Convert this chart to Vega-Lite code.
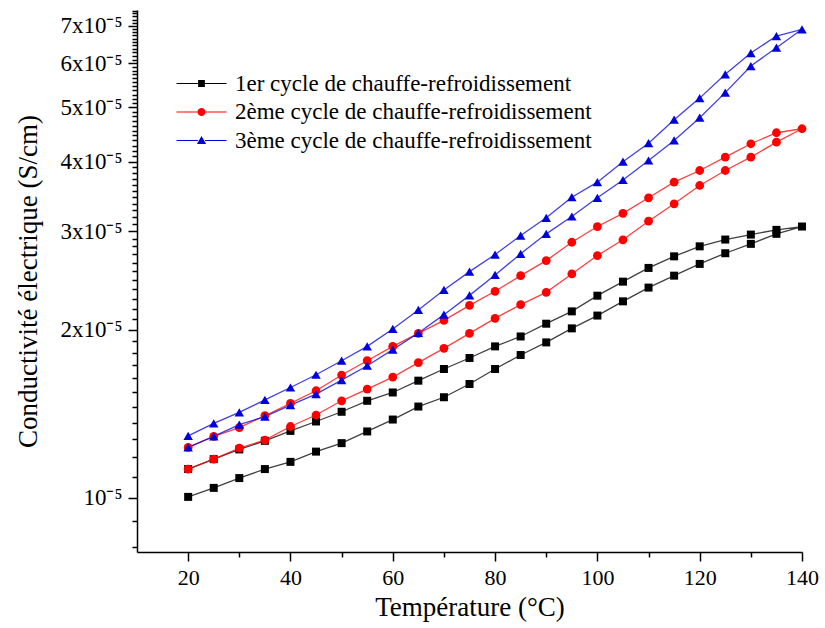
{
"$schema": "https://vega.github.io/schema/vega-lite/v6.json",
"width": 665, "height": 542,
"autosize": {"type": "none"},
"padding": {"left": 137, "top": 10, "right": 23, "bottom": 76},
"background": "white",
"config": {"view": {"stroke": null}, "font": "Liberation Serif",
  "axis": {"labelFont": "Liberation Serif", "titleFont": "Liberation Serif"},
  "legend": {"labelFont": "Liberation Serif"}},
"datasets": {"d": [
{"c":"1er","s":0,"T":20,"v":1.004e-5},{"c":"1er","s":1,"T":25,"v":1.042e-5},{"c":"1er","s":2,"T":30,"v":1.085e-5},{"c":"1er","s":3,"T":35,"v":1.126e-5},{"c":"1er","s":4,"T":40,"v":1.160e-5},{"c":"1er","s":5,"T":45,"v":1.210e-5},{"c":"1er","s":6,"T":50,"v":1.253e-5},{"c":"1er","s":7,"T":55,"v":1.315e-5},{"c":"1er","s":8,"T":60,"v":1.381e-5},{"c":"1er","s":9,"T":65,"v":1.457e-5},{"c":"1er","s":10,"T":70,"v":1.514e-5},{"c":"1er","s":11,"T":75,"v":1.599e-5},{"c":"1er","s":12,"T":80,"v":1.701e-5},{"c":"1er","s":13,"T":85,"v":1.802e-5},{"c":"1er","s":14,"T":90,"v":1.898e-5},{"c":"1er","s":15,"T":95,"v":2.011e-5},{"c":"1er","s":16,"T":100,"v":2.120e-5},{"c":"1er","s":17,"T":105,"v":2.248e-5},{"c":"1er","s":18,"T":110,"v":2.379e-5},{"c":"1er","s":19,"T":115,"v":2.499e-5},{"c":"1er","s":20,"T":120,"v":2.623e-5},{"c":"1er","s":21,"T":125,"v":2.741e-5},{"c":"1er","s":22,"T":130,"v":2.849e-5},{"c":"1er","s":23,"T":135,"v":2.969e-5},{"c":"1er","s":24,"T":140,"v":3.060e-5},
{"c":"1er","s":25,"T":135,"v":3.018e-5},{"c":"1er","s":26,"T":130,"v":2.960e-5},{"c":"1er","s":27,"T":125,"v":2.900e-5},{"c":"1er","s":28,"T":120,"v":2.820e-5},{"c":"1er","s":29,"T":115,"v":2.706e-5},{"c":"1er","s":30,"T":110,"v":2.580e-5},{"c":"1er","s":31,"T":105,"v":2.438e-5},{"c":"1er","s":32,"T":100,"v":2.301e-5},{"c":"1er","s":33,"T":95,"v":2.157e-5},{"c":"1er","s":34,"T":90,"v":2.050e-5},{"c":"1er","s":35,"T":85,"v":1.945e-5},{"c":"1er","s":36,"T":80,"v":1.867e-5},{"c":"1er","s":37,"T":75,"v":1.780e-5},{"c":"1er","s":38,"T":70,"v":1.701e-5},{"c":"1er","s":39,"T":65,"v":1.621e-5},{"c":"1er","s":40,"T":60,"v":1.544e-5},{"c":"1er","s":41,"T":55,"v":1.492e-5},{"c":"1er","s":42,"T":50,"v":1.426e-5},{"c":"1er","s":43,"T":45,"v":1.370e-5},{"c":"1er","s":44,"T":40,"v":1.318e-5},{"c":"1er","s":45,"T":35,"v":1.265e-5},{"c":"1er","s":46,"T":30,"v":1.221e-5},{"c":"1er","s":47,"T":25,"v":1.173e-5},{"c":"1er","s":48,"T":20,"v":1.126e-5},
{"c":"2ème","s":0,"T":20,"v":1.126e-5},{"c":"2ème","s":1,"T":25,"v":1.173e-5},{"c":"2ème","s":2,"T":30,"v":1.228e-5},{"c":"2ème","s":3,"T":35,"v":1.269e-5},{"c":"2ème","s":4,"T":40,"v":1.342e-5},{"c":"2ème","s":5,"T":45,"v":1.407e-5},{"c":"2ème","s":6,"T":50,"v":1.492e-5},{"c":"2ème","s":7,"T":55,"v":1.566e-5},{"c":"2ème","s":8,"T":60,"v":1.645e-5},{"c":"2ème","s":9,"T":65,"v":1.746e-5},{"c":"2ème","s":10,"T":70,"v":1.852e-5},{"c":"2ème","s":11,"T":75,"v":1.970e-5},{"c":"2ème","s":12,"T":80,"v":2.096e-5},{"c":"2ème","s":13,"T":85,"v":2.218e-5},{"c":"2ème","s":14,"T":90,"v":2.333e-5},{"c":"2ème","s":15,"T":95,"v":2.517e-5},{"c":"2ème","s":16,"T":100,"v":2.715e-5},{"c":"2ème","s":17,"T":105,"v":2.897e-5},{"c":"2ème","s":18,"T":110,"v":3.128e-5},{"c":"2ème","s":19,"T":115,"v":3.360e-5},{"c":"2ème","s":20,"T":120,"v":3.624e-5},{"c":"2ème","s":21,"T":125,"v":3.855e-5},{"c":"2ème","s":22,"T":130,"v":4.073e-5},{"c":"2ème","s":23,"T":135,"v":4.332e-5},{"c":"2ème","s":24,"T":140,"v":4.579e-5},
{"c":"2ème","s":25,"T":135,"v":4.504e-5},{"c":"2ème","s":26,"T":130,"v":4.304e-5},{"c":"2ème","s":27,"T":125,"v":4.073e-5},{"c":"2ème","s":28,"T":120,"v":3.855e-5},{"c":"2ème","s":29,"T":115,"v":3.674e-5},{"c":"2ème","s":30,"T":110,"v":3.445e-5},{"c":"2ème","s":31,"T":105,"v":3.231e-5},{"c":"2ème","s":32,"T":100,"v":3.060e-5},{"c":"2ème","s":33,"T":95,"v":2.868e-5},{"c":"2ème","s":34,"T":90,"v":2.659e-5},{"c":"2ème","s":35,"T":85,"v":2.499e-5},{"c":"2ème","s":36,"T":80,"v":2.343e-5},{"c":"2ème","s":37,"T":75,"v":2.211e-5},{"c":"2ème","s":38,"T":70,"v":2.078e-5},{"c":"2ème","s":39,"T":65,"v":1.970e-5},{"c":"2ème","s":40,"T":60,"v":1.867e-5},{"c":"2ème","s":41,"T":55,"v":1.760e-5},{"c":"2ème","s":42,"T":50,"v":1.659e-5},{"c":"2ème","s":43,"T":45,"v":1.555e-5},{"c":"2ème","s":44,"T":40,"v":1.476e-5},{"c":"2ème","s":45,"T":35,"v":1.403e-5},{"c":"2ème","s":46,"T":30,"v":1.336e-5},{"c":"2ème","s":47,"T":25,"v":1.288e-5},{"c":"2ème","s":48,"T":20,"v":1.231e-5},
{"c":"3ème","s":0,"T":20,"v":1.231e-5},{"c":"3ème","s":1,"T":25,"v":1.288e-5},{"c":"3ème","s":2,"T":30,"v":1.352e-5},{"c":"3ème","s":3,"T":35,"v":1.398e-5},{"c":"3ème","s":4,"T":40,"v":1.466e-5},{"c":"3ème","s":5,"T":45,"v":1.534e-5},{"c":"3ème","s":6,"T":50,"v":1.625e-5},{"c":"3ème","s":7,"T":55,"v":1.724e-5},{"c":"3ème","s":8,"T":60,"v":1.842e-5},{"c":"3ème","s":9,"T":65,"v":1.973e-5},{"c":"3ème","s":10,"T":70,"v":2.128e-5},{"c":"3ème","s":11,"T":75,"v":2.304e-5},{"c":"3ème","s":12,"T":80,"v":2.506e-5},{"c":"3ème","s":13,"T":85,"v":2.734e-5},{"c":"3ème","s":14,"T":90,"v":2.969e-5},{"c":"3ème","s":15,"T":95,"v":3.189e-5},{"c":"3ème","s":16,"T":100,"v":3.445e-5},{"c":"3ème","s":17,"T":105,"v":3.707e-5},{"c":"3ème","s":18,"T":110,"v":4.017e-5},{"c":"3ème","s":19,"T":115,"v":4.363e-5},{"c":"3ème","s":20,"T":120,"v":4.792e-5},{"c":"3ème","s":21,"T":125,"v":5.313e-5},{"c":"3ème","s":22,"T":130,"v":5.929e-5},{"c":"3ème","s":23,"T":135,"v":6.396e-5},{"c":"3ème","s":24,"T":140,"v":6.898e-5},
{"c":"3ème","s":25,"T":135,"v":6.710e-5},{"c":"3ème","s":26,"T":130,"v":6.255e-5},{"c":"3ème","s":27,"T":125,"v":5.730e-5},{"c":"3ème","s":28,"T":120,"v":5.195e-5},{"c":"3ème","s":29,"T":115,"v":4.753e-5},{"c":"3ème","s":30,"T":110,"v":4.314e-5},{"c":"3ème","s":31,"T":105,"v":3.998e-5},{"c":"3ème","s":32,"T":100,"v":3.674e-5},{"c":"3ème","s":33,"T":95,"v":3.453e-5},{"c":"3ème","s":34,"T":90,"v":3.172e-5},{"c":"3ème","s":35,"T":85,"v":2.948e-5},{"c":"3ème","s":36,"T":80,"v":2.726e-5},{"c":"3ème","s":37,"T":75,"v":2.541e-5},{"c":"3ème","s":38,"T":70,"v":2.356e-5},{"c":"3ème","s":39,"T":65,"v":2.170e-5},{"c":"3ème","s":40,"T":60,"v":2.006e-5},{"c":"3ème","s":41,"T":55,"v":1.867e-5},{"c":"3ème","s":42,"T":50,"v":1.760e-5},{"c":"3ème","s":43,"T":45,"v":1.661e-5},{"c":"3ème","s":44,"T":40,"v":1.576e-5},{"c":"3ème","s":45,"T":35,"v":1.498e-5},{"c":"3ème","s":46,"T":30,"v":1.422e-5},{"c":"3ème","s":47,"T":25,"v":1.359e-5},{"c":"3ème","s":48,"T":20,"v":1.291e-5}
]},
"data": {"name": "d"},
"encoding": {
  "x": {"field": "T", "type": "quantitative",
    "scale": {"domain": [10, 140], "nice": false, "zero": false},
    "axis": {"title": "Température (°C)", "values": [20,30,40,50,60,70,80,90,100,110,120,130,140],
      "labelExpr": "datum.value % 20 == 0 ? datum.label : ''",
      "tickSize": {"condition": {"test": "datum.value % 20 == 0", "value": 9}, "value": 5},
      "labelFlush": false, "grid": false, "labelFontSize": 22, "titleFontSize": 27, "labelPadding": 6, "titlePadding": 6,
      "labelFont": "Liberation Serif", "titleFont": "Liberation Serif", "titleFontWeight": "normal",
      "domainColor": "black", "tickColor": "black", "domainWidth": 1.5, "tickWidth": 1.5, "labelColor": "black", "titleColor": "black"}},
  "y": {"field": "v", "type": "quantitative",
    "scale": {"type": "log", "domain": [8e-6, 7.47e-5], "nice": false},
    "axis": {"title": "Conductivité électrique (S/cm)",
      "values": [8.182e-6,9.091e-6,1e-5,
        1.0909e-5,1.1818e-5,1.2727e-5,1.3636e-5,1.4545e-5,1.5455e-5,1.6364e-5,1.7273e-5,1.8182e-5,1.9091e-5,2e-5,
        2.0909e-5,2.1818e-5,2.2727e-5,2.3636e-5,2.4545e-5,2.5455e-5,2.6364e-5,2.7273e-5,2.8182e-5,2.9091e-5,3e-5,
        3.0909e-5,3.1818e-5,3.2727e-5,3.3636e-5,3.4545e-5,3.5455e-5,3.6364e-5,3.7273e-5,3.8182e-5,3.9091e-5,4e-5,
        4.0909e-5,4.1818e-5,4.2727e-5,4.3636e-5,4.4545e-5,4.5455e-5,4.6364e-5,4.7273e-5,4.8182e-5,4.9091e-5,5e-5,
        5.0909e-5,5.1818e-5,5.2727e-5,5.3636e-5,5.4545e-5,5.5455e-5,5.6364e-5,5.7273e-5,5.8182e-5,5.9091e-5,6e-5,
        6.0909e-5,6.1818e-5,6.2727e-5,6.3636e-5,6.4545e-5,6.5455e-5,6.6364e-5,6.7273e-5,6.8182e-5,6.9091e-5,7e-5,
        7.0909e-5,7.1818e-5,7.2727e-5,7.3636e-5,7.4545e-5],
      "labelExpr": "abs(datum.value*1e5 - round(datum.value*1e5)) < 0.01 ? (round(datum.value*1e5) == 1 ? '10⁻⁵' : round(datum.value*1e5) + 'x10⁻⁵') : ''",
      "tickSize": {"condition": {"test": "abs(datum.value*1e5 - round(datum.value*1e5)) < 0.01", "value": 9}, "value": 5},
      "labelOverlap": false, "grid": false, "labelFontSize": 23, "titleFontSize": 27, "labelPadding": 6, "titlePadding": 17,
      "labelFont": "Liberation Serif", "titleFont": "Liberation Serif", "titleFontWeight": "normal",
      "domainColor": "black", "tickColor": "black", "domainWidth": 1.5, "tickWidth": 1.5, "labelColor": "black", "titleColor": "black"}}
},
"layer": [
  {"mark": {"type": "line", "strokeWidth": 1.3, "opacity": 0.75},
   "encoding": {
     "color": {"field": "c", "type": "nominal", "scale": {"domain": ["1er","2ème","3ème"], "range": ["#000000","#ff0000","#0000dd"]}, "legend": null},
     "order": {"field": "s", "type": "quantitative"}}},
  {"mark": {"type": "point", "filled": true, "opacity": 1},
   "encoding": {
     "color": {"field": "c", "type": "nominal", "scale": {"domain": ["1er","2ème","3ème"], "range": ["#000000","#ff0000","#0000dd"]}, "legend": null},
     "shape": {"field": "c", "type": "nominal", "scale": {"domain": ["1er","2ème","3ème"], "range": ["square","circle","triangle-up"]}, "legend": null},
     "size": {"field": "c", "type": "nominal", "scale": {"domain": ["1er","2ème","3ème"], "range": [64, 90, 110]}, "legend": null}}},
  {"transform": [{"filter": "datum.s == 0"}],
   "mark": {"type": "point", "filled": true, "opacity": 0},
   "encoding": {
     "color": {"field": "c", "type": "nominal", "scale": {"domain": ["1er","2ème","3ème"], "range": ["#000000","#ff0000","#0000dd"]},
       "legend": {"orient": "none", "legendX": 53, "legendY": 62, "title": null, "labelExpr": "datum.label + ' cycle de chauffe-refroidissement'", "labelFontSize": 23, "labelFont": "Liberation Serif", "labelColor": "black", "symbolSize": 64, "symbolOpacity": 1, "labelOffset": 22, "rowPadding": 4.5, "labelLimit": 0}},
     "shape": {"field": "c", "type": "nominal", "scale": {"domain": ["1er","2ème","3ème"], "range": [
         "M -6.25 -0.15 H -0.9 V 0.15 H -6.25 Z M 0.9 -0.15 H 6.25 V 0.15 H 0.9 Z M -0.85 -0.85 H 0.85 V 0.85 H -0.85 Z",
         "M -6.25 -0.15 H -0.9 V 0.15 H -6.25 Z M 0.9 -0.15 H 6.25 V 0.15 H 0.9 Z M -1 0 A 1 1 0 1 1 1 0 A 1 1 0 1 1 -1 0 Z",
         "M -6.25 -0.15 H -0.9 V 0.15 H -6.25 Z M 0.9 -0.15 H 6.25 V 0.15 H 0.9 Z M 0 -1.1 L 1.15 0.85 L -1.15 0.85 Z"]},
       "legend": {"orient": "none", "legendX": 53, "legendY": 62, "title": null, "labelExpr": "datum.label + ' cycle de chauffe-refroidissement'", "labelFontSize": 23, "labelFont": "Liberation Serif", "labelColor": "black", "symbolSize": 64, "symbolOpacity": 1, "labelOffset": 22, "rowPadding": 4.5, "labelLimit": 0}}}}
],
"resolve": {"scale": {"color": "independent", "shape": "independent", "size": "independent"}}
}
